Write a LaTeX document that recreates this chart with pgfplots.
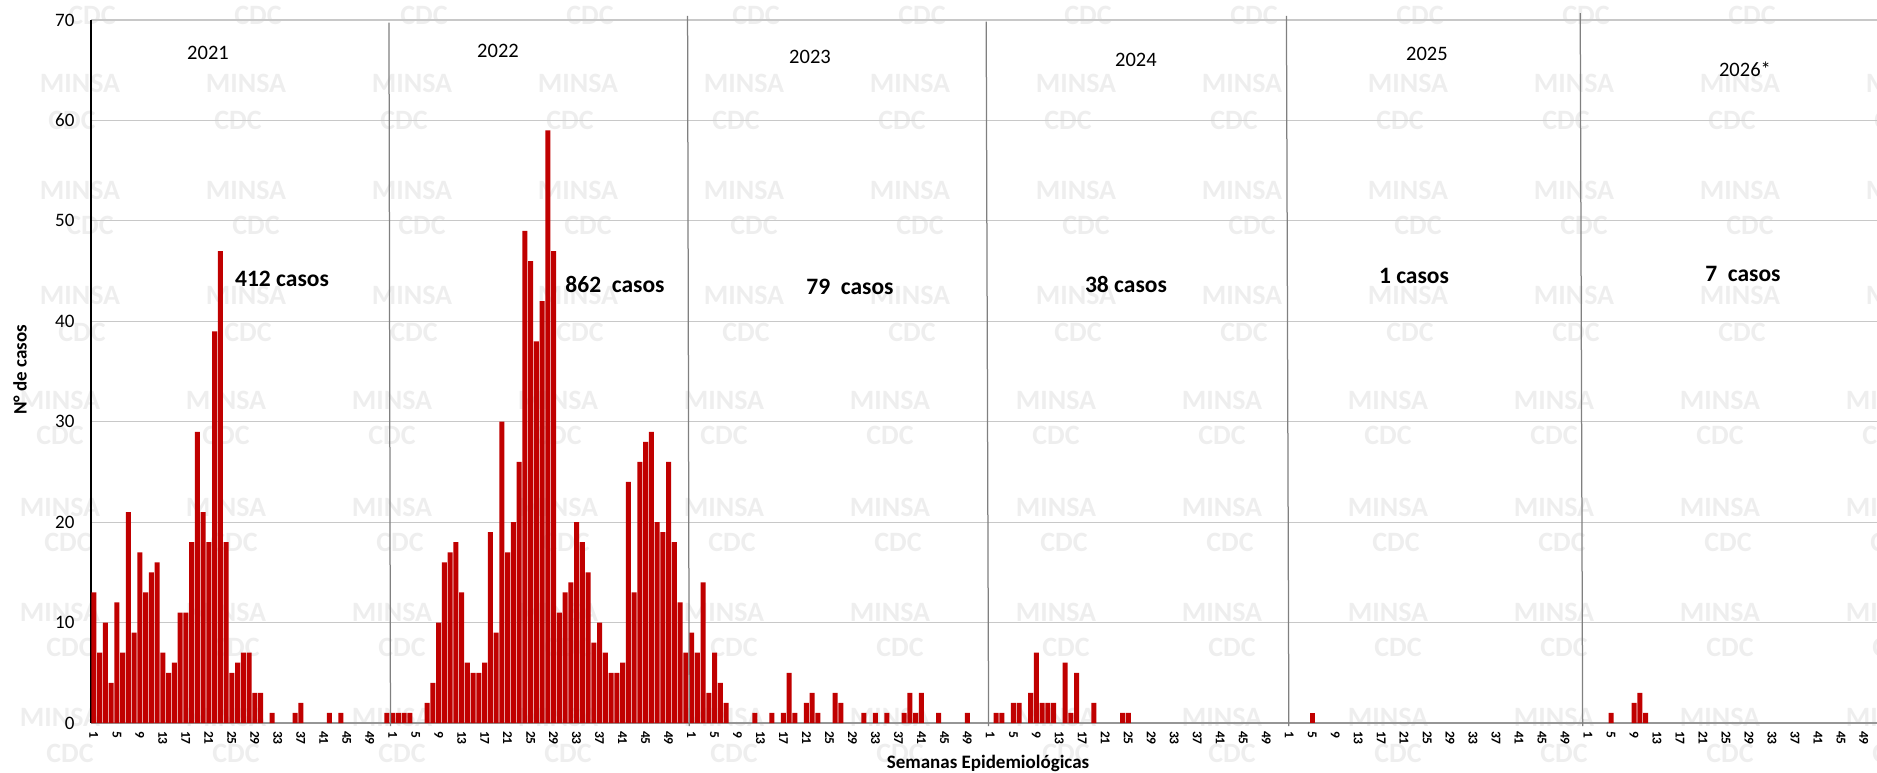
\documentclass[border=0pt]{standalone}
\usepackage{fontspec}
\setmainfont{Carlito}
\usepackage{pgfplots}
\pgfplotsset{compat=1.18}
\usepackage{pgfplotstable}
\definecolor{barred}{HTML}{C00000}
\definecolor{wm}{RGB}{238,238,238}
\definecolor{gridc}{RGB}{200,200,200}
\definecolor{yearline}{RGB}{128,128,128}
\definecolor{xaxisc}{RGB}{150,150,150}

% week / cases (weeks with no case omitted)
\pgfplotstableread{
w c
1 13
2 7
3 10
4 4
5 12
6 7
7 21
8 9
9 17
10 13
11 15
12 16
13 7
14 5
15 6
16 11
17 11
18 18
19 29
20 21
21 18
22 39
23 47
24 18
25 5
26 6
27 7
28 7
29 3
30 3
32 1
36 1
37 2
42 1
44 1
52 1
}\tA
\pgfplotstableread{
w c
1 1
2 1
3 1
4 1
7 2
8 4
9 10
10 16
11 17
12 18
13 13
14 6
15 5
16 5
17 6
18 19
19 9
20 30
21 17
22 20
23 26
24 49
25 46
26 38
27 42
28 59
29 47
30 11
31 13
32 14
33 20
34 18
35 15
36 8
37 10
38 7
39 5
40 5
41 6
42 24
43 13
44 26
45 28
46 29
47 20
48 19
49 26
50 18
51 12
52 7
}\tB
\pgfplotstableread{
w c
1 9
2 7
3 14
4 3
5 7
6 4
7 2
12 1
15 1
17 1
18 5
19 1
21 2
22 3
23 1
26 3
27 2
31 1
33 1
35 1
38 1
39 3
40 1
41 3
44 1
49 1
}\tC
\pgfplotstableread{
w c
2 1
3 1
5 2
6 2
8 3
9 7
10 2
11 2
12 2
14 6
15 1
16 5
19 2
24 1
25 1
}\tD
\pgfplotstableread{
w c
5 1
}\tE
\pgfplotstableread{
w c
5 1
9 2
10 3
11 1
}\tF

\begin{document}
\begin{tikzpicture}
% watermark
\begin{scope}[x=0.4pt,y=-0.4pt,shift={(0pt,308.8pt)},
  every node/.style={text=wm, font=\bfseries\fontsize{11.2}{12}\selectfont, inner sep=0pt}]
\foreach \yy/\xo/\txt in {15/92/CDC, 83/80/MINSA, 120/72/CDC, 190/80/MINSA, 225/90/CDC, 295/80/MINSA, 332/82/CDC, 400/60/MINSA, 435/60/CDC, 507/60/MINSA, 542/68/CDC, 612/60/MINSA, 647/70/CDC, 717/60/MINSA, 753/70/CDC}{
  \foreach \j in {0,...,11}{ \node at ({\xo+166*\j},\yy) {\txt}; }
}
\end{scope}

\begin{axis}[
  at={(36.4pt,19.6pt)}, anchor=south west,
  scale only axis, width=717.2pt, height=281.2pt,
  xmin=0.5, xmax=312.5, ymin=0, ymax=70,
  axis x line=bottom, axis y line=left,
  x axis line style={-, draw=xaxisc, line width=0.8pt},
  y axis line style={-, draw=black, line width=0.6pt},
  ytick={0,10,...,70}, xtick={1,5,...,309},
  xticklabel={\pgfmathtruncatemacro\wk{mod(round(\tick)-1,52)+1}\wk},
  major tick length=0pt,
  ymajorgrids, grid style={draw=gridc, line width=0.45pt},
  xticklabel style={rotate=-90, anchor=west, inner sep=0pt, font=\bfseries\fontsize{5.4}{6}\selectfont},
  xticklabel shift=3pt,
  yticklabel style={anchor=east, inner sep=0pt, font=\fontsize{7.6}{9}\selectfont},
  yticklabel shift=6.4pt,
  /pgf/number format/assume math mode=true,
  clip=false,
]
\addplot[ybar, bar width=0.87, fill=barred, draw=none] table[x expr=\thisrow{w}, y=c] {\tA};
\addplot[ybar, bar width=0.87, fill=barred, draw=none] table[x expr=\thisrow{w}+52, y=c] {\tB};
\addplot[ybar, bar width=0.87, fill=barred, draw=none] table[x expr=\thisrow{w}+104, y=c] {\tC};
\addplot[ybar, bar width=0.87, fill=barred, draw=none] table[x expr=\thisrow{w}+156, y=c] {\tD};
\addplot[ybar, bar width=0.87, fill=barred, draw=none] table[x expr=\thisrow{w}+208, y=c] {\tE};
\addplot[ybar, bar width=0.87, fill=barred, draw=none] table[x expr=\thisrow{w}+260, y=c] {\tF};
% year separators
\draw[yearline, line width=0.5pt] (axis cs:52.35,69.75) -- (axis cs:52.61,-0.3);
\draw[yearline, line width=0.5pt] (axis cs:104.31,70.42) -- (axis cs:104.6,-0.3);
\draw[yearline, line width=0.5pt] (axis cs:156.27,69.85) -- (axis cs:156.69,-0.3);
\draw[yearline, line width=0.5pt] (axis cs:208.52,70.42) -- (axis cs:208.94,-0.3);
\draw[yearline, line width=0.5pt] (axis cs:259.64,70.69) -- (axis cs:260.06,-0.3);
\end{axis}

\begin{scope}[x=0.4pt,y=-0.4pt,shift={(0pt,308.8pt)}]
\begin{scope}[every node/.style={font=\fontsize{8.2}{10}\selectfont}]
\node at (208,53) {2021};
\node at (498,51) {2022};
\node at (810,57) {2023};
\node at (1136,60) {2024};
\node at (1427,54) {2025};
\node at (1745,69) {2026*};
\end{scope}
\begin{scope}[every node/.style={font=\bfseries\fontsize{9.4}{11}\selectfont}]
\node at (282,279) {412 casos};
\node at (615,284) {862\ \ casos};
\node at (850,287) {79\ \ casos};
\node at (1126,284) {38 casos};
\node at (1414,276) {1 casos};
\node at (1743,274) {7\ \ casos};
\end{scope}
\node[rotate=90, font=\bfseries\fontsize{7.6}{9}\selectfont] at (20,370) {N° de casos};
\node[font=\bfseries\fontsize{7.6}{9}\selectfont] at (988,763) {Semanas Epidemiológicas};
\end{scope}
\pgfresetboundingbox
\path[use as bounding box] (0,0) rectangle (750.8pt,308.8pt);
\end{tikzpicture}
\end{document}
